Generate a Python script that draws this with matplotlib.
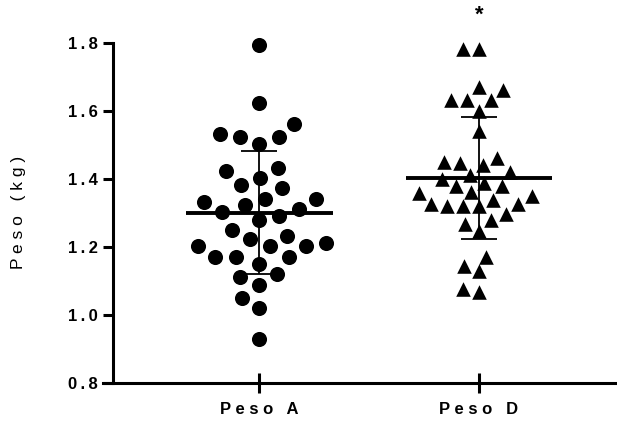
import numpy as np
import matplotlib
matplotlib.use("Agg")
import matplotlib.pyplot as plt

plt.rcParams['font.family'] = ['Liberation Sans', 'DejaVu Sans']

categories = ["Peso A", "Peso D"]
peso_a = [1.794, 1.624, 1.563, 1.533, 1.524, 1.524, 1.504, 1.433, 1.423, 1.403,
          1.381, 1.373, 1.342, 1.332, 1.342, 1.310, 1.322, 1.302, 1.291, 1.278,
          1.250, 1.222, 1.231, 1.201, 1.201, 1.211, 1.201, 1.170, 1.170, 1.170,
          1.150, 1.121, 1.111, 1.089, 1.050, 1.019, 0.929]
peso_d = [1.781, 1.781, 1.661, 1.671, 1.632, 1.632, 1.632, 1.600, 1.541, 1.460,
          1.448, 1.440, 1.450, 1.420, 1.411, 1.399, 1.388, 1.378, 1.378, 1.360,
          1.358, 1.339, 1.349, 1.327, 1.319, 1.319, 1.319, 1.327, 1.297, 1.280,
          1.268, 1.248, 1.170, 1.145, 1.128, 1.066, 1.076]
means = [1.300, 1.403]
sds = [0.181, 0.180]
yticks = [0.8, 1.0, 1.2, 1.4, 1.6, 1.8]
ylabel = "Peso (kg)"
star = "*"

W, H = 617, 425
fig = plt.figure(figsize=(W / 100, H / 100), dpi=100)
ax_left, ax_right, ax_bottom, ax_top = 103, 617, 382.7, 43
ax = fig.add_axes([ax_left / W, (H - ax_bottom) / H,
                   (ax_right - ax_left) / W, (ax_bottom - ax_top) / H])
ax.set_ylim(0.8, 1.8)
ax.set_xlim(-0.711, 1.628)

for s in ['top', 'right']:
    ax.spines[s].set_visible(False)
ax.spines['left'].set_position(('data', -0.667))
for s in ['left', 'bottom']:
    ax.spines[s].set_linewidth(2.2)
    ax.spines[s].set_capstyle('projecting')


def swarm_offsets(vals, xc, diam):
    """Beeswarm layout computed in pixel space."""
    pts = ax.transData.transform(np.column_stack([np.full(len(vals), xc), vals]))
    ypix = pts[:, 1]
    order = np.argsort(ypix)
    placed = []
    xoff = np.zeros(len(vals))
    for i in order:
        y = ypix[i]
        intervals = []
        for (px, py) in placed:
            dy = abs(py - y)
            if dy < diam:
                half = np.sqrt(diam ** 2 - dy ** 2)
                intervals.append((px - half, px + half))
        cands = [0.0] + [e for iv in intervals for e in iv]
        cands = sorted(cands, key=lambda c: (abs(c), c))
        best = 0.0
        for c in cands:
            if all(not (lo + 1e-6 < c < hi - 1e-6) for lo, hi in intervals):
                best = c
                break
        xoff[i] = best
        placed.append((best, y))
    disp = np.column_stack([pts[:, 0] + xoff, ypix])
    return ax.transData.inverted().transform(disp)[:, 0]


fig.canvas.draw()
xa = swarm_offsets(peso_a, 0, 20.5)
xd = swarm_offsets(peso_d, 1, 16.0)

ax.scatter(xa, peso_a, s=118, marker='o', color='black', linewidths=0,
           zorder=3, clip_on=False)
ax.scatter(xd, peso_d, s=110, marker='^', color='black', linewidths=0,
           zorder=3, clip_on=False)

for i, (m, sd) in enumerate(zip(means, sds)):
    ax.plot([i - 0.334, i + 0.334], [m, m], color='black', lw=2.8, zorder=4,
            solid_capstyle='butt')
    ax.errorbar(i, m, yerr=sd, fmt='none', ecolor='black', elinewidth=1.3,
                capsize=13, capthick=1.3, zorder=4)

ax.text(1, 1.883, star, ha='center', va='center', fontsize=16,
        fontweight='bold', clip_on=False)

ax.set_yticks(yticks)
ax.set_yticklabels(['\u2009'.join(f"{v:.1f}") for v in yticks],
                   fontsize=12, fontweight='bold')
ax.set_xticks([0, 1])
ax.set_xticklabels([' '.join(c) for c in categories], fontsize=12,
                   fontweight='bold')
ax.tick_params(axis='y', direction='out', length=7, width=2.2, pad=4)
ax.tick_params(axis='x', direction='inout', length=14, width=2.2, pad=7)
ax.set_ylabel(' '.join(ylabel), fontsize=12.5)
ax.yaxis.set_label_coords(-0.15, 0.5)

fig.savefig("out.png", dpi=100)
